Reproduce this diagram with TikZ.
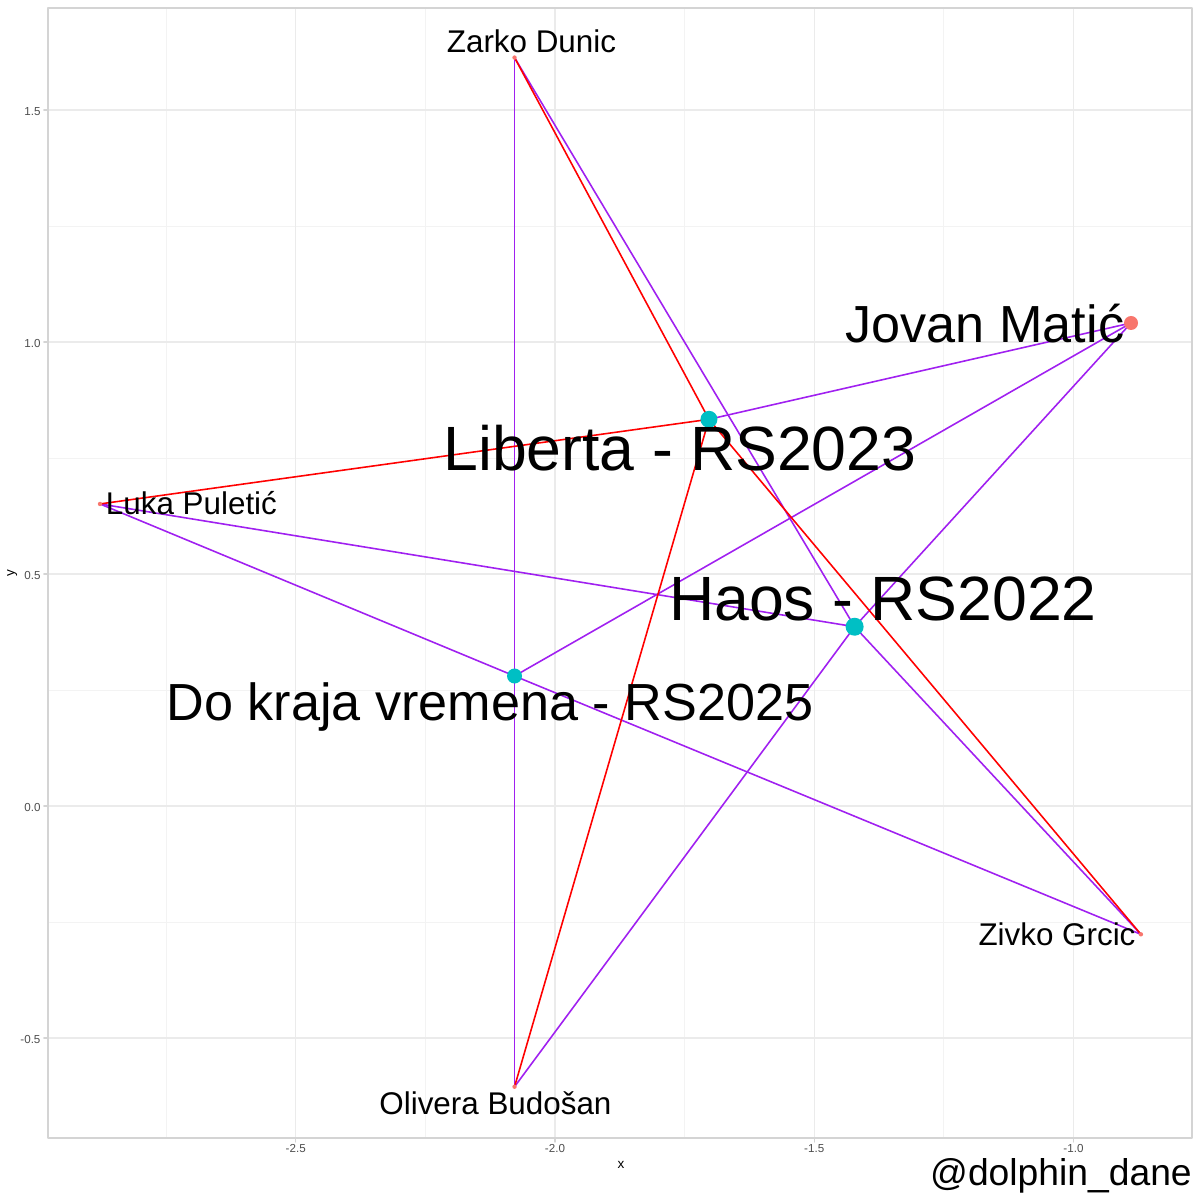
\documentclass[tikz,border=0pt]{standalone}
\usepackage{fontspec}
\setmainfont{Liberation Sans}
\definecolor{salmon}{HTML}{F8766D}
\definecolor{albumteal}{HTML}{00BFC4}
\definecolor{edgepurple}{HTML}{A020F0}
\definecolor{gridgray}{HTML}{EBEBEB}
\definecolor{bordergray}{HTML}{D4D4D4}
\definecolor{ticktext}{HTML}{4D4D4D}
\begin{document}
\begin{tikzpicture}[x=5.185cm, y=4.64cm, line join=round, line cap=round,
		redge/.style={draw=red, line width=0.45pt},
		pedge/.style={draw=edgepurple, line width=0.45pt},
		gridmajor/.style={draw=gridgray, line width=0.4pt},
		gridminor/.style={draw=gridgray!60, line width=0.25pt},
		person/.style={font=\fontsize{8.93pt}{9pt}\selectfont, anchor=base},
		midlabel/.style={font=\fontsize{14.85pt}{15pt}\selectfont, anchor=base},
		biglabel/.style={font=\fontsize{17.8pt}{18pt}\selectfont, anchor=base},
		ticklbl/.style={font=\fontsize{3.3pt}{3.5pt}\selectfont, text=ticktext, inner sep=0pt}]
					\useasboundingbox (-3.0704,-0.8491) rectangle (-0.7560,1.7371);
					\foreach \x in {-2.75,-2.25,-1.75,-1.25} \draw[gridminor] (\x,-0.7155)--(\x,1.720);
					\foreach \y in {-0.25,0.25,0.75,1.25} \draw[gridminor] (-2.978,\y)--(-0.7715,\y);
					\foreach \x in {-2.5,-2,-1.5,-1} \draw[gridmajor] (\x,-0.7155)--(\x,1.720);
					\foreach \y in {-0.5,0,0.5,1,1.5} \draw[gridmajor] (-2.978,\y)--(-0.7715,\y);
					\draw[bordergray, line width=0.5pt] (-2.978,-0.7155) rectangle (-0.7715,1.720);
					\foreach \x/\t [count=\i] in {-2.5/-2.5,-2/-2.0,-1.5/-1.5,-1/-1.0}{
						\draw[bordergray, line width=0.4pt] (\x,-0.7155)--++(0,-0.04cm);
						\node[ticklbl, anchor=base] (xtick\i) at (\x,-0.7478) {\t};
					}
					\foreach \y/\t [count=\i] in {-0.5/-0.5,0/0.0,0.5/0.5,1/1.0,1.5/1.5}{
						\draw[bordergray, line width=0.4pt] (-2.978,\y)--++(-0.04cm,0);
						\node[ticklbl, anchor=base east] (ytick\i) at (-2.991,\y-0.0108) {\t};
					}
					\node[font=\fontsize{3.84pt}{4pt}\selectfont, anchor=base, inner sep=0pt] (xtitle) at (-1.8727,-0.7802) {x};
					\node[font=\fontsize{3.84pt}{4pt}\selectfont, rotate=90, inner sep=0pt] (ytitle) at (-3.047,0.502) {y};
					\coordinate (zarko) at (-2.078,1.613);
					\coordinate (jovan) at (-0.889,1.041);
					\coordinate (liberta) at (-1.703,0.8334);
					\coordinate (luka) at (-2.8775,0.651);
					\coordinate (haos) at (-1.4221,0.3864);
					\coordinate (dokraja) at (-2.078,0.2802);
					\coordinate (zivko) at (-0.870,-0.2765);
					\coordinate (olivera) at (-2.078,-0.605);
					\draw[pedge] (zarko)--(dokraja);
					\draw[pedge] (dokraja)--(olivera);
					\draw[pedge] (zarko)--(haos);
					\draw[pedge] (haos)--(zivko);
					\draw[pedge] (liberta)--(jovan);
					\draw[pedge] (jovan)--(dokraja);
					\draw[pedge] (jovan)--(haos);
					\draw[pedge] (haos)--(olivera);
					\draw[pedge] (luka)--(haos);
					\draw[pedge] (luka)--(dokraja);
					\draw[pedge] (dokraja)--(zivko);
					\draw[redge] (zarko)--(liberta);
					\draw[redge] (liberta)--(zivko);
					\draw[redge] (luka)--(liberta);
					\draw[redge] (liberta)--(olivera);
					\fill[salmon] (zarko) circle (0.022cm);
					\fill[salmon] (luka) circle (0.022cm);
					\fill[salmon] (zivko) circle (0.022cm);
					\fill[salmon] (olivera) circle (0.022cm);
					\fill[salmon] (jovan) circle (0.07cm);
					\fill[albumteal] (liberta) circle (0.085cm);
					\fill[albumteal] (haos) circle (0.09cm);
					\fill[albumteal] (dokraja) circle (0.075cm);
					\node[person] (lzarko) at (-2.0453,1.625) {Zarko Dunic};
					\node[midlabel] (ljovan) at (-1.1707,1.0) {Jovan Matić};
					\node[biglabel] (lliberta) at (-1.7589,0.7241) {Liberta - RS2023};
					\node[person] (lluka) at (-2.7011,0.6272) {Luka Puletić};
					\node[biglabel] (lhaos) at (-1.3674,0.4009) {Haos - RS2022};
					\node[midlabel] (ldokraja) at (-2.1254,0.1853) {Do kraja vremena - RS2025};
					\node[person] (lzivko) at (-1.0318,-0.2996) {Zivko Grcic};
					\node[person] (lolivera) at (-2.1148,-0.6659) {Olivera Budošan};
					\node[font=\fontsize{10.6pt}{11pt}\selectfont, anchor=base] (credit) at (-1.0241,-0.8168) {@dolphin\_dane};
					\end{tikzpicture}
\end{document}
